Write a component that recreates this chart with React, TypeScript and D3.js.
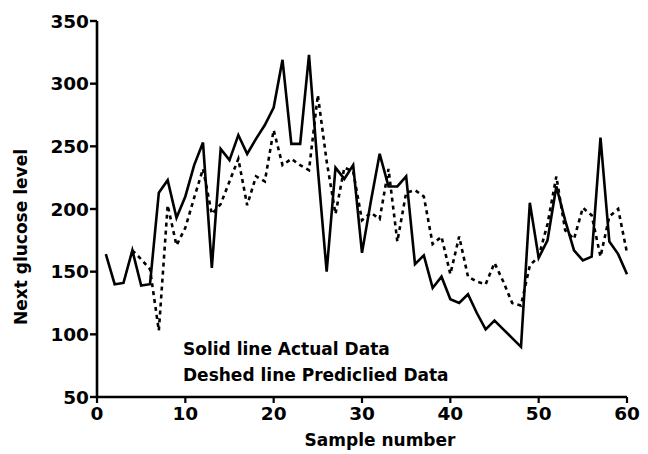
import React from 'react';
import * as d3 from 'd3';

// sample number 1..60, next glucose level (actual)
const actual = [
  164, 140, 141, 167, 139, 140, 213, 223, 193, 210,
  235, 253, 153, 248, 239, 259, 244, 256, 267, 281,
  319, 252, 252, 323, 232, 150, 233, 224, 235, 165,
  206, 244, 218, 218, 226, 156, 163, 137, 146, 128,
  125, 132, 117, 104, 111, 104, 97, 90, 205, 161,
  175, 218, 191, 167, 159, 162, 257, 174, 164, 148,
];

// predicted data starts at sample 4
const predictedStart = 4;
const predicted = [
  167, 160, 152, 103, 203, 171, 185, 209, 232, 196,
  204, 222, 240, 203, 226, 222, 263, 235, 240, 235,
  231, 291, 238, 196, 233, 230, 191, 197, 192, 232,
  174, 213, 215, 210, 172, 178, 148, 178, 146, 142,
  140, 157, 142, 125, 123, 155, 162, 188, 226, 183,
  176, 201, 195, 162, 194, 200, 165,
];

const xTicks = [0, 10, 20, 30, 40, 50, 60];
const yTicks = [50, 100, 150, 200, 250, 300, 350];
const notes = ['Solid line Actual Data', 'Deshed line Prediclied Data'];

export default function App() {
  const width = 648, height = 454;
  const x = d3.scaleLinear().domain([0, 60]).range([97, 627]);
  const y = d3.scaleLinear().domain([50, 350]).range([397, 21]);

  const line = d3.line<[number, number]>()
    .x(d => x(d[0]))
    .y(d => y(d[1]));

  const actualPts: [number, number][] = actual.map((v, i) => [i + 1, v]);
  const predPts: [number, number][] = predicted.map((v, i) => [i + predictedStart, v]);

  const font = '"DejaVu Sans", Verdana, sans-serif';

  return (
    <svg width={width} height={height} style={{ position: 'absolute', left: 0, top: 0, background: '#fff' }}>
      <path d={line(predPts) || ''} fill="none" stroke="#000" strokeWidth={2.6} strokeDasharray="4,4" />
      <path d={line(actualPts) || ''} fill="none" stroke="#000" strokeWidth={2.6} />

      {/* y axis */}
      <line x1={x(0)} x2={x(0)} y1={y(350)} y2={y(50)} stroke="#000" strokeWidth={2.6} />
      {yTicks.map(t => (
        <g key={t}>
          <line x1={x(0) - 7} x2={x(0)} y1={y(t)} y2={y(t)} stroke="#000" strokeWidth={2.4} />
          <text x={89} y={y(t) + 6.5} textAnchor="end" fontFamily={font} fontWeight="bold" fontSize={18.5}>{t}</text>
        </g>
      ))}

      {/* x axis */}
      <line x1={x(0)} x2={x(60)} y1={y(50)} y2={y(50)} stroke="#000" strokeWidth={2.6} />
      {xTicks.map(t => (
        <g key={t}>
          <line x1={x(t)} x2={x(t)} y1={y(50)} y2={y(50) + 6} stroke="#000" strokeWidth={2.2} />
          <text x={x(t)} y={420} textAnchor="middle" fontFamily={font} fontWeight="bold" fontSize={18.5}>{t}</text>
        </g>
      ))}

      <text x={380} y={446} textAnchor="middle" fontFamily={font} fontWeight="bold" fontSize={17}>Sample number</text>
      <text transform="translate(27,237) rotate(-90)" textAnchor="middle" fontFamily={font} fontWeight="bold" fontSize={17}>Next glucose level</text>

      {notes.map((n, i) => (
        <text key={n} x={183} y={355 + i * 26} fontFamily={font} fontWeight="bold" fontSize={17}>{n}</text>
      ))}
    </svg>
  );
}
